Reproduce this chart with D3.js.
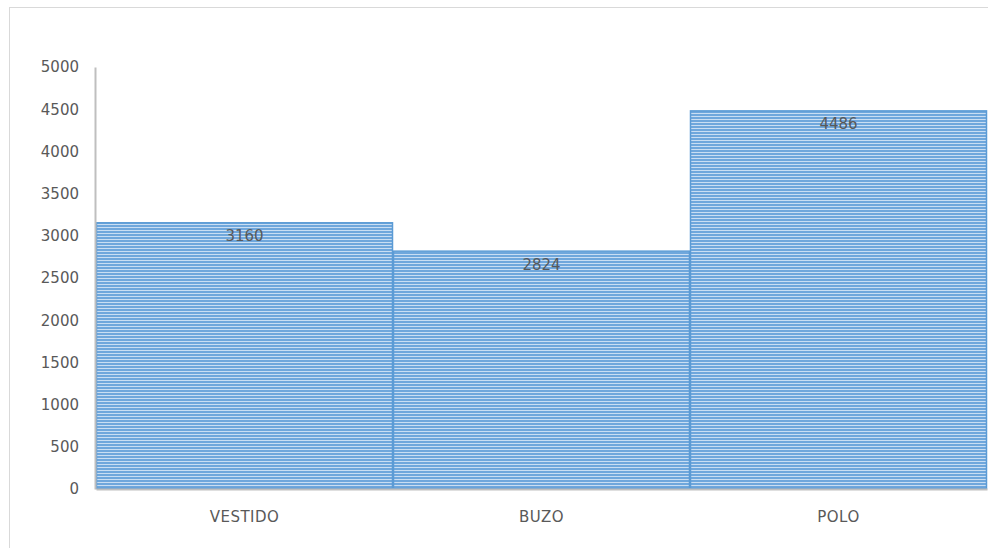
<!DOCTYPE html>
<html><head><meta charset="utf-8">
<script src="https://cdn.jsdelivr.net/npm/d3@7"></script>
<style>body{margin:0;background:#fff;}svg{display:block;font-family:"DejaVu Sans",sans-serif;}</style>
</head><body>
<script>
const categories = ["VESTIDO","BUZO","POLO"];
const values = [3160,2824,4486];
const yTicks = [0,500,1000,1500,2000,2500,3000,3500,4000,4500,5000];

const W=988,H=548;
const FONT="'DejaVu Sans',sans-serif";
const svg=d3.select("body").append("svg").attr("width",W).attr("height",H);
svg.append("rect").attr("x",9.5).attr("y",7.5).attr("width",W).attr("height",H).attr("fill","#fff").attr("stroke","#d9d9d9");

const defs=svg.append("defs");
const pat=defs.append("pattern").attr("id","stripes").attr("patternUnits","userSpaceOnUse").attr("width",8).attr("height",3);
pat.append("rect").attr("width",8).attr("height",3).attr("fill","#c9def3");
pat.append("rect").attr("width",8).attr("height",2).attr("fill","#6fa7dc");

const x=d3.scaleBand().domain(categories).range([96,987]).padding(0);
const y=d3.scaleLinear().domain([0,5000]).range([489,67]);

svg.selectAll("rect.bar").data(values).enter().append("rect").attr("class","bar")
 .attr("x",(d,i)=>x(categories[i])+0.5).attr("y",d=>y(d)+0.5)
 .attr("width",x.bandwidth()-1).attr("height",d=>y(0)-y(d)-1)
 .attr("fill","url(#stripes)").attr("stroke","#5b9bd5").attr("stroke-width",1.5);

svg.selectAll("text.val").data(values).enter().append("text").attr("class","val")
 .attr("x",(d,i)=>x(categories[i])+x.bandwidth()/2).attr("y",d=>y(d)+19)
 .attr("text-anchor","middle").attr("font-size",15).attr("fill","#595959").attr("font-family",FONT).text(d=>d);

const yAxis=svg.append("g").attr("transform","translate(95,0)")
 .call(d3.axisLeft(y).tickValues(yTicks).tickFormat(d3.format("d")).tickSize(0).tickPadding(16));
yAxis.select(".domain").attr("stroke","#bfbfbf").attr("stroke-width",2);
yAxis.selectAll("text").attr("font-size",15).attr("fill","#595959").attr("font-family",FONT);

const xAxis=svg.append("g").attr("transform","translate(0,489)")
 .call(d3.axisBottom(x).tickSize(0).tickPadding(22));
xAxis.select(".domain").attr("stroke","#bfbfbf").attr("stroke-width",2);
xAxis.selectAll("text").attr("font-size",15).attr("fill","#595959").attr("font-family",FONT).attr("letter-spacing",0.5);
</script>
</body></html>
